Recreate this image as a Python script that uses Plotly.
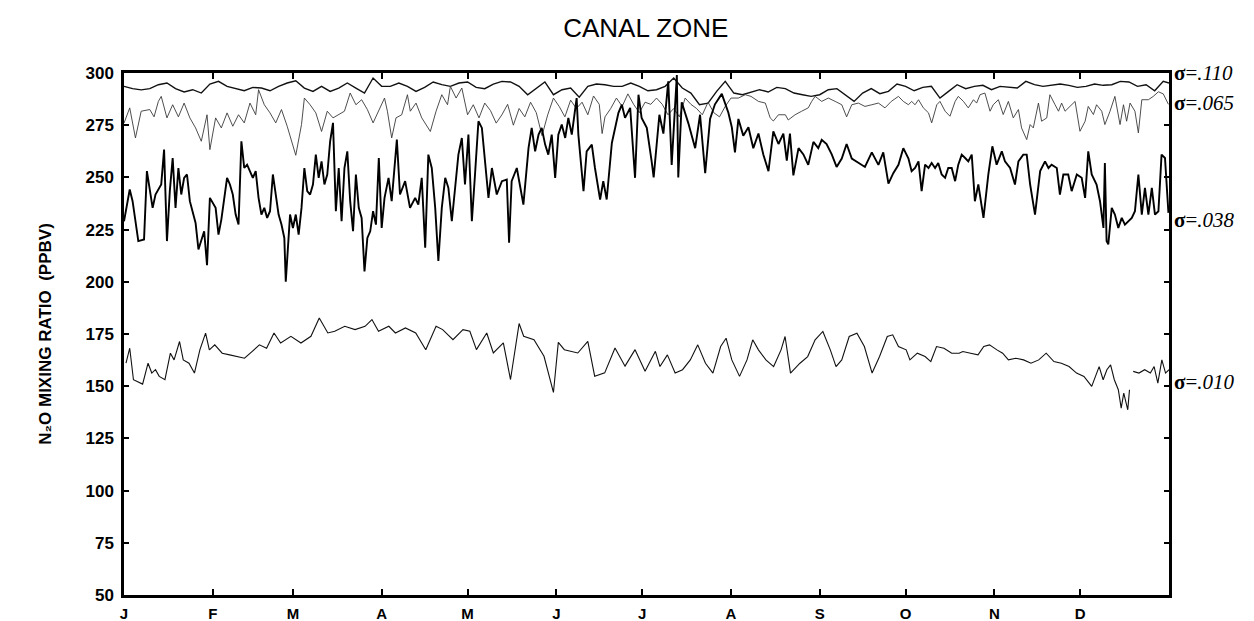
import plotly.graph_objects as go

# ---------------- data (day of year, N2O mixing ratio in ppbv) ----------------
month_starts = [0, 31, 59, 90, 120, 151, 181, 212, 243, 273, 304, 334]
month_labels = ["J", "F", "M", "A", "M", "J", "J", "A", "S", "O", "N", "D"]

# sigma = .110 level
days_110 = list(range(0, 366, 3)) + [365]
ppbv_110 = [
    293.6, 292.5, 291.9, 292.5, 294.4, 295.2, 292.5, 290.9, 292.0, 290.4, 294.7, 296.0,
    293.6, 292.5, 291.5, 293.1, 292.8, 291.5, 293.6, 295.2, 296.3, 292.8, 291.2, 293.6,
    291.2, 292.8, 295.2, 292.8, 290.4, 297.6, 293.6,
    293.6, 295.2, 293.6, 291.2, 293.1, 295.7, 294.4, 293.6, 295.2, 295.7, 293.1, 292.5,
    294.7, 296.0, 295.7, 293.6, 289.6, 292.8, 295.7, 289.6, 292.0, 292.8, 288.4, 293.6,
    294.7, 294.4, 293.6, 293.6, 295.2, 293.6, 291.5,
    292.0, 293.6, 297.6, 292.8, 290.4, 284.8, 285.6, 291.2, 296.0, 290.4, 289.6, 290.9,
    292.0, 290.9, 293.1, 292.5, 290.4, 289.6, 288.8, 289.6, 292.0, 292.5, 289.6, 286.4,
    290.4, 292.5, 290.1, 291.2, 294.7,
    293.6, 291.5, 293.1, 293.6, 288.0, 291.2, 294.4, 292.5, 293.6, 294.1, 292.0, 293.6,
    293.1, 292.8, 296.0, 294.4, 293.6, 294.1, 294.7, 294.1, 293.1, 293.6, 294.7, 294.1,
    294.4, 296.0, 295.7, 293.6, 294.4, 291.5, 296.0, 295.2,
]

# sigma = .065 level
days_065 = [
    0, 2, 4, 6, 9, 10.5, 12, 13, 15, 17, 19, 21, 23, 25, 27, 29, 30, 32, 34, 36, 38, 40,
    42, 44, 46, 47, 49, 51, 53, 55, 57, 59, 60, 62, 63, 65, 67, 69, 71, 73, 75, 77, 79,
    81, 83, 85, 87, 89, 91,
    92, 93.5, 95, 97, 99, 100, 102, 104, 107, 109, 111, 113, 114, 116, 118, 120, 122,
    124, 126, 128, 130, 132, 134, 136, 138, 140, 142, 144, 146, 148, 150, 152, 154, 156,
    158, 160, 162, 164, 166, 167, 168, 170, 172, 174, 176, 178, 180,
    182, 184, 186, 188, 190, 192, 194, 196, 198, 200, 202, 204, 206, 208, 210, 212,
    214.6, 217, 219, 221.6, 224, 225.7, 226.8, 228.6, 231, 232, 234.4, 236.7, 239,
    240.2, 241.4, 243.7, 246, 248.4, 250.7, 252.4, 254.2, 256.5, 258.8, 261.2, 263.5,
    265.8, 268, 270.5, 272.2,
    274, 275.1, 276.3, 277.5, 279.2, 281, 282.1, 283.9, 285, 286.8, 288.5, 290.3, 291.4,
    293.2, 294.9, 296.7, 297.8, 299, 300.7, 302.5, 303.6, 305.4, 307.1, 308.9, 310.6,
    312.4, 313.5, 315.3, 316.5, 317.6, 319.4, 320.5, 322.3, 323.4, 325.2, 326.4, 327.5,
    328.7, 330.4, 332.2, 333.9, 335.7, 336.8, 338.6, 339.7, 341.5, 342.6, 344.4, 346.1,
    347.9, 349.1, 350.2, 351.4, 353.1, 354.3, 355.5, 357.8, 359.5, 361.3, 363, 364.8,
]
ppbv_065 = [
    276.0, 283.3, 268.9, 281.7, 282.5, 279.0, 286.4, 288.8, 278.5, 284.8, 279.0, 285.6,
    278.5, 273.7, 267.3, 280.0, 263.3, 278.5, 273.7, 280.9, 274.5, 280.0, 276.1, 285.6,
    280.0, 292.0, 284.8, 280.9, 276.1, 282.5, 274.5, 265.7, 260.6, 275.3, 288.0, 284.8,
    280.9, 272.0, 281.7, 278.5, 280.0, 281.7, 290.4, 284.8, 287.2, 282.5, 276.1, 281.7,
    288.0,
    281.7, 268.9, 278.5, 280.0, 289.6, 281.7, 285.6, 278.5, 272.0, 281.7, 289.6, 284.8,
    293.6, 288.0, 292.8, 280.0, 284.8, 278.5, 285.6, 282.0, 276.0, 280.0, 285.0, 275.0,
    283.0, 279.0, 286.0, 281.0, 270.0, 280.0, 288.0, 284.0, 279.0, 287.0, 283.0, 286.0,
    280.0, 289.0, 285.0, 271.0, 279.0, 283.0, 288.0, 284.0, 290.0, 285.0, 281.0,
    286.0, 285.0, 288.0, 285.0, 280.0, 283.0, 279.0, 288.0, 285.0, 283.0, 280.0, 286.0,
    281.0, 279.0, 284.0, 288.0, 288.0, 289.6, 288.8, 286.4, 285.6, 278.5, 277.0, 280.0,
    280.0, 277.5, 280.0, 281.7, 283.3, 286.4, 288.8, 286.4, 288.0, 286.4, 284.8, 279.0,
    284.8, 285.6, 284.0, 284.8, 285.6, 283.3, 286.4, 288.8, 286.4,
    284.8, 286.4, 284.8, 287.2, 283.3, 280.9, 276.1, 284.8, 286.4, 281.7, 279.3, 286.4,
    288.8, 286.4, 283.3, 287.2, 285.6, 289.6, 290.4, 281.7, 284.8, 287.2, 280.1, 286.4,
    278.5, 282.5, 273.7, 268.1, 275.3, 273.7, 285.6, 276.9, 278.5, 289.6, 284.8, 281.7,
    285.6, 281.7, 284.0, 286.4, 272.1, 276.9, 284.0, 280.1, 284.8, 281.7, 275.3, 281.7,
    288.8, 275.3, 284.8, 276.9, 285.6, 281.7, 271.3, 287.2, 287.2, 288.8, 291.0, 290.0,
    285.0,
]

# sigma = .038 level
days_038 = [
    0, 2, 3, 5, 7, 8, 10, 11, 13, 14, 15, 16, 17, 18, 19, 20, 21, 22, 23, 25, 26, 28,
    29, 30, 32, 33, 34, 36, 37, 38, 39, 40, 41, 42, 43, 45, 46, 47, 48, 49, 50, 51, 52,
    53, 54, 55, 56, 56.5, 58, 59, 60, 61, 62, 63, 64, 65, 66, 67, 68, 69, 70, 71, 72,
    73, 74, 75, 76, 77, 78, 79, 80, 81, 82, 83, 84, 85, 86, 87, 88, 89, 90, 91,
    92.4, 93.5, 95.3, 96.4, 98.2, 99.9, 101.7, 102.8, 104, 105.2, 106.3, 107.5, 108.7,
    109.8, 111, 112.2, 113.3, 114.5, 115.6, 116.8, 118, 119.1, 120.3, 121.5, 122.6,
    123.8, 125, 126.1, 127.3, 128.5, 130.2, 132, 133.7, 134.5, 135.4, 137.2, 139.5,
    141.3, 142.4, 143.6, 144.8, 145.9, 147.1, 148.2, 149.4, 150.6, 151.7, 152.9, 154.1,
    155.2, 156.4, 158.1, 158.7, 160.5, 161.6, 163.4, 164.5, 166.3, 167.4, 168.6, 170.4,
    172.7, 173.9, 175, 176.8, 178.5, 179.7, 180.8, 182.6, 184.3,
    185, 187, 188.4, 190.1, 191.3, 193.1, 193.6, 194.8, 197.1, 199.5, 201.2, 203,
    204.7, 206.4, 208.8, 211.1, 212.3, 213.4, 214.6, 216.3, 218.1, 219.8, 221.6, 223.3,
    225.1, 226.8, 228.6, 230.3, 231.5, 232.6, 233.8, 235.6, 237.3, 239, 240.8, 242.5,
    243.7, 245.4, 247.2, 248.9, 250.7, 252.4, 254.2, 256.5, 258.8, 261.2, 263.5, 265.2,
    267, 268.7, 270.5, 272.2, 274, 275.1,
    276.3, 277.5, 278.6, 279.8, 281, 282.1, 283.3, 284.4, 285.6, 286.8, 287.9, 289.1,
    290.3, 291.4, 292.6, 293.8, 294.9, 296.1, 297.2, 298.4, 300.2, 301.9, 303.3, 304.8,
    306.6, 307.7, 309.5, 311.2, 312.4, 314.1, 315.3, 316.5, 318.2, 320, 321.7, 322.9,
    324, 325.8, 326.9, 328.1, 329.8, 331, 332.8, 334.5, 335.7, 336.8, 338, 339.7, 340.9,
    342.1, 342.6, 343.2, 343.8, 345, 346.1, 347.3, 348.5, 349.6, 350.8, 352, 353.1,
    354.3, 355.5, 356.6, 357.8, 359, 360.1, 361.3, 362.4, 363.6, 364.8,
]
ppbv_038 = [
    229.0, 244.2, 238.6, 219.5, 220.3, 253.0, 235.4, 241.8, 246.6, 263.3, 219.5, 243.4,
    259.3, 235.4, 254.5, 241.8, 249.8, 251.4, 238.6, 228.2, 215.5, 224.2, 208.0, 240.2,
    235.4, 222.6, 229.8, 249.8, 246.6, 241.8, 232.2, 227.4, 267.3, 254.5, 256.1, 249.8,
    253.0, 240.2, 232.2, 235.4, 230.6, 233.8, 251.4, 241.8, 232.2, 227.4, 221.0, 200.0,
    232.2, 225.8, 232.2, 222.6, 235.4, 254.5, 243.4, 241.8, 246.6, 260.9, 249.8, 257.7,
    246.6, 251.4, 267.3, 276.1, 233.8, 254.5, 229.0, 254.5, 262.5, 238.6, 224.2, 251.4,
    235.4, 230.6, 205.0, 221.0, 224.2, 233.8, 227.4, 259.3, 225.8, 240.2,
    249.8, 238.6, 268.1, 241.8, 248.2, 235.4, 240.2, 237.0, 249.8, 216.3, 260.9, 254.5,
    235.4, 210.0, 235.4, 249.8, 245.0, 229.0, 244.2, 260.9, 268.9, 246.6, 270.5, 229.0,
    251.4, 276.9, 273.7, 257.7, 240.2, 254.5, 241.8, 248.2, 249.0, 218.7, 248.2, 254.5,
    237.0, 264.1, 273.7, 262.5, 270.5, 273.7, 265.7, 260.9, 270.5, 249.8, 270.5, 275.3,
    268.9, 278.5, 270.5, 288.0, 270.5, 243.4, 262.5, 265.7, 254.5, 239.4, 248.2, 239.4,
    266.5, 280.9, 284.8, 278.5, 283.3, 249.8, 289.6, 278.5, 273.7, 257.7,
    250.0, 280.0, 271.0, 296.0, 256.0, 299.0, 250.0, 286.0, 276.0, 264.0, 280.0, 252.0,
    278.0, 285.0, 290.0, 281.0, 274.0, 262.0, 278.0, 270.0, 274.0, 264.0, 271.0, 261.0,
    253.0, 272.0, 266.0, 271.0, 258.0, 271.0, 251.0, 264.0, 261.0, 256.0, 267.0, 264.0,
    268.0, 266.0, 261.0, 255.0, 259.0, 266.0, 259.0, 257.0, 255.0, 262.0, 256.0, 262.0,
    247.0, 252.0, 256.0, 264.0, 259.0, 253.0,
    254.5, 257.7, 243.4, 256.1, 254.5, 256.9, 254.5, 256.9, 251.4, 249.8, 254.5, 254.5,
    248.2, 256.1, 260.9, 259.3, 257.7, 260.9, 238.6, 246.6, 230.6, 251.4, 264.9, 256.1,
    262.5, 257.7, 254.5, 246.6, 257.7, 260.9, 260.9, 246.6, 232.2, 253.0, 257.7, 254.5,
    256.1, 254.5, 241.8, 251.4, 251.4, 243.4, 251.4, 249.8, 240.2, 262.5, 251.4, 246.6,
    238.6, 225.8, 256.9, 219.5, 217.9, 235.4, 232.2, 225.8, 230.6, 227.4, 229.0, 230.6,
    233.8, 251.4, 232.2, 245.0, 232.2, 245.0, 232.2, 233.8, 260.9, 259.3, 233.0,
]

# sigma = .010 level (None marks the break in the record)
days_010 = [
    0.7, 2, 3.3, 4.6, 6.5, 8.4, 9.7, 11, 12.3, 14.3, 16.2, 17.5, 19.4, 20.7, 22.7, 24.6,
    26.5, 28.5, 29.8, 31.7, 34.3, 36.9, 39.5, 42.1, 44.7, 47.3, 49.8, 52.4, 54.7, 58.3,
    61.8, 65.3, 68.2, 71.2, 73.6, 77.1, 80.7, 84.2, 86.6, 88.9, 92.5, 94.8, 98.3, 101.9,
    105.4, 109, 111.3, 114.9, 118.4, 120.8, 123.1, 126.7, 129, 132.5, 135, 138, 139.6,
    143.2, 146.7, 150, 151.7, 153.8, 158.5, 162, 164.4, 167.9, 171.5, 175, 178.5, 182,
    185.6,
    187.2, 189.8, 192.5, 195.1, 197.8, 200.4, 203.1, 205.7, 208.4, 210.3, 212.3, 215,
    217.6, 219.6, 221.6, 224.2, 226.9, 229.5, 230.9, 232.8, 236.1, 238.8, 241.4, 244.1,
    246.7, 248.7, 250.7, 253.3, 256, 258.6, 261.3, 263.9, 266.6, 268.5, 270.5, 273.2,
    274.5, 277.1, 279.8, 281.8, 283.8, 286.4, 289.1, 291.7, 293, 295.7, 298.3, 300.3,
    302.3, 304.9, 306.9, 308.9, 311.5, 314.2, 316.8, 319.5, 322.1, 324.8, 327.4, 330.1,
    332.7, 335.3, 338, 340.6, 342, 343.3, 344.6, 345.9, 347.3, 348.3, 349.2, 350.6,
    351.2, 351.9, 352.5, 354.5, 356.5, 358.5, 359.8, 361.1, 362.5, 363.8, 365,
]
ppbv_010 = [
    161.0, 168.2, 153.1, 152.3, 151.0, 161.0, 156.3, 157.9, 154.7, 153.1, 165.8, 162.6,
    171.4, 162.6, 161.0, 156.3, 167.4, 175.4, 167.4, 169.8, 165.8, 165.0, 164.2, 163.4,
    166.6, 169.8, 168.2, 175.5, 170.7, 173.9, 170.7, 173.9, 182.7, 175.5, 176.3, 178.7,
    177.1, 178.7, 181.9, 176.3, 178.7, 175.5, 177.9, 175.5, 167.5, 178.7, 177.1, 172.3,
    177.1, 176.3, 167.5, 175.5, 165.9, 170.7, 153.2, 180.0, 173.9, 172.3, 164.3, 147.0,
    171.0, 167.5, 165.9, 171.5, 154.8, 156.4, 168.3, 159.6, 167.5, 157.2, 166.7,
    159.4, 165.0, 156.3, 157.9, 162.6, 169.8, 161.0, 156.3, 169.0, 173.0, 162.6, 154.7,
    162.6, 172.2, 167.4, 162.6, 159.4, 167.4, 173.8, 156.3, 161.0, 164.2, 172.2, 176.2,
    167.4, 159.4, 162.6, 173.8, 175.4, 169.0, 156.3, 164.2, 173.8, 174.6, 169.0, 167.4,
    162.6, 165.8, 164.2, 161.8, 169.0, 168.2, 165.8, 165.8, 166.6, 165.8, 165.0, 169.0,
    169.8, 167.4, 165.8, 162.6, 163.4, 162.6, 161.0, 162.6, 165.8, 161.8, 161.0, 159.4,
    156.3, 154.7, 149.9, 159.4, 153.1, 157.9, 160.2, 153.1, 148.3, 139.5, 146.7, 138.7,
    148.3, None, 157.1, 156.3, 157.9, 156.3, 159.4, 151.5, 162.6, 156.3, 157.9,
]

sigma_labels = [".110", ".065", ".038", ".010"]
sigma_label_y = [300, 285.5, 229.5, 152]

# ---------------- figure ----------------
fig = go.Figure()

series = [
    (days_110, ppbv_110, "#111111", 1.4),
    (days_065, ppbv_065, "#3a3a3a", 0.9),
    (days_038, ppbv_038, "#000000", 1.9),
    (days_010, ppbv_010, "#111111", 1.1),
]
for (x, y, color, width), lab in zip(series, sigma_labels):
    fig.add_trace(go.Scatter(
        x=x, y=y, mode="lines", name="σ=" + lab,
        line=dict(color=color, width=width), connectgaps=False,
        hoverinfo="x+y",
    ))

for lab, yv in zip(sigma_labels, sigma_label_y):
    fig.add_annotation(
        x=1.003, xref="paper", y=yv, yref="y", xanchor="left", yanchor="middle",
        text="<b>σ</b>=<i>" + lab + "</i>", showarrow=False,
        font=dict(family="Liberation Serif", size=21, color="black"),
    )

sans = "Liberation Sans, DejaVu Sans"
fig.update_layout(
    width=1254, height=621,
    margin=dict(l=124, r=85, t=73, b=26, pad=0),
    paper_bgcolor="white", plot_bgcolor="white",
    showlegend=False,
    title=dict(
        text="CANAL ZONE", x=0.515, xanchor="center", y=0.955, yanchor="middle",
        font=dict(family=sans, size=26, color="black"),
    ),
    xaxis=dict(
        range=[0, 365], tickmode="array", tickvals=month_starts, ticktext=month_labels,
        ticks="inside", ticklen=6, tickwidth=1.5, tickcolor="black",
        showline=True, linecolor="black", linewidth=2.5, mirror="allticks",
        showgrid=False, zeroline=False, ticklabelstandoff=3, automargin=False,
        tickfont=dict(family=sans, size=15, color="black", weight="bold"),
    ),
    yaxis=dict(
        range=[50, 300], tickmode="linear", tick0=50, dtick=25,
        ticks="inside", ticklen=5, tickwidth=1.5, tickcolor="black",
        showline=True, linecolor="black", linewidth=2.5, mirror="allticks",
        showgrid=False, zeroline=False, ticklabelstandoff=4, automargin=False,
        tickfont=dict(family=sans, size=17, color="black", weight="bold"),
        title=dict(
            text="N₂O MIXING RATIO  (PPBV)", standoff=30,
            font=dict(family=sans, size=17, color="black", weight="bold"),
        ),
    ),
)

fig.write_html("out.html")
